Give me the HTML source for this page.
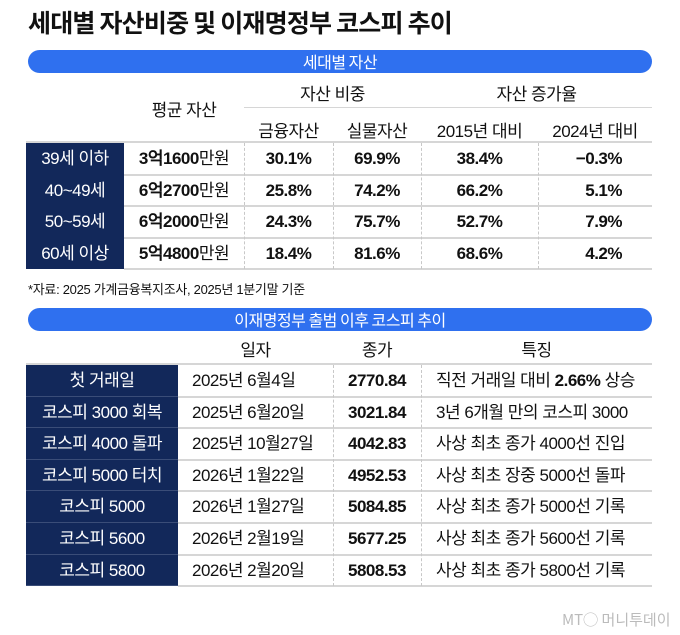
<!DOCTYPE html>
<html><head><meta charset="utf-8">
<style>
*{margin:0;padding:0;box-sizing:border-box}
body{width:680px;height:635px;background:#fff;position:relative;overflow:hidden;font-family:"Liberation Sans Narrow","Liberation Sans","Noto Sans CJK KR",sans-serif;color:#111}
.a{position:absolute}
.t{position:absolute;text-align:center;white-space:nowrap;font-size:17px;letter-spacing:-0.5px}
.banner{position:absolute;left:28px;width:624px;height:23px;border-radius:12px;background:#2f70ef;color:#fff;font-size:16px;text-align:center;line-height:23px;font-family:"Noto Sans CJK KR",sans-serif;letter-spacing:-0.5px}
.dark{position:absolute;background:#12285a;color:#fff}
.hl{position:absolute;height:2px;background:#d6d6d6}
.vd{position:absolute;width:0;border-left:1px dashed #c8c8c8}
b{font-weight:bold;font-family:"Liberation Sans Narrow","Liberation Sans",sans-serif;vertical-align:baseline}
</style></head><body>
<div class="a" style="left:28px;top:6px;font-size:25px;font-weight:bold;font-family:'Noto Sans CJK KR',sans-serif;letter-spacing:-0.8px;line-height:32px">세대별 자산비중 및 이재명정부 코스피 추이</div>

<div class="banner" style="top:50px">세대별 자산</div>
<div class="t" style="left:124px;width:120px;top:96px">평균 자산</div>
<div class="t" style="left:244px;width:177px;top:80px">자산 비중</div>
<div class="t" style="left:421px;width:231px;top:80px">자산 증가율</div>
<div class="hl" style="left:244px;width:408px;top:107px;height:1px"></div>
<div class="t" style="left:244px;width:89px;top:117px">금융자산</div>
<div class="t" style="left:333px;width:88px;top:117px">실물자산</div>
<div class="t" style="left:421px;width:117px;top:117px">2015년 대비</div>
<div class="t" style="left:538px;width:114px;top:117px">2024년 대비</div>
<div id="t1"></div>
<div class="a" style="left:28px;top:279px;font-size:13px;letter-spacing:-0.3px">*자료: 2025 가계금융복지조사, 2025년 1분기말 기준</div>

<div class="banner" style="top:308px">이재명정부 출범 이후 코스피 추이</div>
<div class="t" style="left:178px;width:155px;top:336px">일자</div>
<div class="t" style="left:333px;width:88px;top:336px">종가</div>
<div class="t" style="left:421px;width:231px;top:336px">특징</div>
<div id="t2"></div>
<div class="a" style="left:562px;top:609px;font-size:15px;color:#bbb;font-family:'Noto Sans CJK KR',sans-serif">MT◯ 머니투데이</div>

<script>
const ages=["39세 이하","40~49세","50~59세","60세 이상"];
const avgAsset=[["3억","1600","만원"],["6억","2700","만원"],["6억","2000","만원"],["5억","4800","만원"]];
const finShare=["30.1%","25.8%","24.3%","18.4%"];
const realShare=["69.9%","74.2%","75.7%","81.6%"];
const vs2015=["38.4%","66.2%","52.7%","68.6%"];
const vs2024=["−0.3%","5.1%","7.9%","4.2%"];

const events=["첫 거래일","코스피 3000 회복","코스피 4000 돌파","코스피 5000 터치","코스피 5000","코스피 5600","코스피 5800"];
const dates=["2025년 6월4일","2025년 6월20일","2025년 10월27일","2026년 1월22일","2026년 1월27일","2026년 2월19일","2026년 2월20일"];
const closes=["2770.84","3021.84","4042.83","4952.53","5084.85","5677.25","5808.53"];
const features=["직전 거래일 대비 <b>2.66%</b> 상승","3년 6개월 만의 코스피 3000","사상 최초 종가 4000선 진입","사상 최초 장중 5000선 돌파","사상 최초 종가 5000선 기록","사상 최초 종가 5600선 기록","사상 최초 종가 5800선 기록"];

function mk(p,cls,style,html,name){
  const e=document.createElement('div');
  e.className=cls;e.style.cssText=style;e.innerHTML=html;
  
  
  p.appendChild(e);return e;
}
const t1=document.getElementById('t1');
const top1=143,h1=31.5;
mk(t1,'hl','left:26px;width:626px;top:'+(top1-2)+'px','','table1-top-line');
ages.forEach((a,i)=>{
  const y=top1+i*h1;
  mk(t1,'dark','left:26px;width:98px;top:'+y+'px;height:'+h1+'px','','age-cell-bg');
  const c=(l,w,html,n,extra)=>mk(t1,'t','left:'+l+'px;width:'+w+'px;top:'+y+'px;height:'+h1+'px;line-height:'+h1+'px;'+(extra||''),html,n);
  c(26,98,a,'age-label','color:#fff');
  c(124,120,'<b>'+avgAsset[i][0]+avgAsset[i][1]+'</b>'+avgAsset[i][2],'avg-asset-value');
  c(244,89,'<b>'+finShare[i]+'</b>','financial-share');
  c(333,88,'<b>'+realShare[i]+'</b>','real-share');
  c(421,117,'<b>'+vs2015[i]+'</b>','growth-vs-2015');
  c(538,114,'<b>'+vs2024[i]+'</b>','growth-vs-2024','text-align:right;padding-right:30px');
  mk(t1,'hl','left:124px;width:528px;top:'+(y+h1-1)+'px','','row-divider');
});
[244,333,421,538].forEach(x=>mk(t1,'vd','left:'+x+'px;top:'+top1+'px;height:'+(h1*4)+'px','','column-separator'));

const t2=document.getElementById('t2');
const top2=365,h2=31.6;
mk(t2,'hl','left:26px;width:626px;top:'+(top2-2)+'px','','table2-top-line');
events.forEach((ev,i)=>{
  const y=top2+i*h2;
  const cs='top:'+y+'px;height:'+h2+'px;line-height:'+h2+'px;';
  mk(t2,'dark','left:26px;width:152px;'+cs+'border-bottom:1px solid #3a4d78','','event-cell-bg');
  mk(t2,'t','left:26px;width:152px;'+cs+'color:#fff',ev,'event-label');
  mk(t2,'t','left:192px;'+cs+'text-align:left',dates[i],'event-date');
  mk(t2,'t','left:333px;width:88px;'+cs,'<b>'+closes[i]+'</b>','close-value');
  mk(t2,'t','left:436px;'+cs+'text-align:left',features[i],'event-feature');
  mk(t2,'hl','left:178px;width:474px;top:'+(y+h2-1)+'px','','row-divider');
});
[333,421].forEach(x=>mk(t2,'vd','left:'+x+'px;top:'+top2+'px;height:'+(h2*7)+'px','','column-separator'));
</script>
</body></html>
